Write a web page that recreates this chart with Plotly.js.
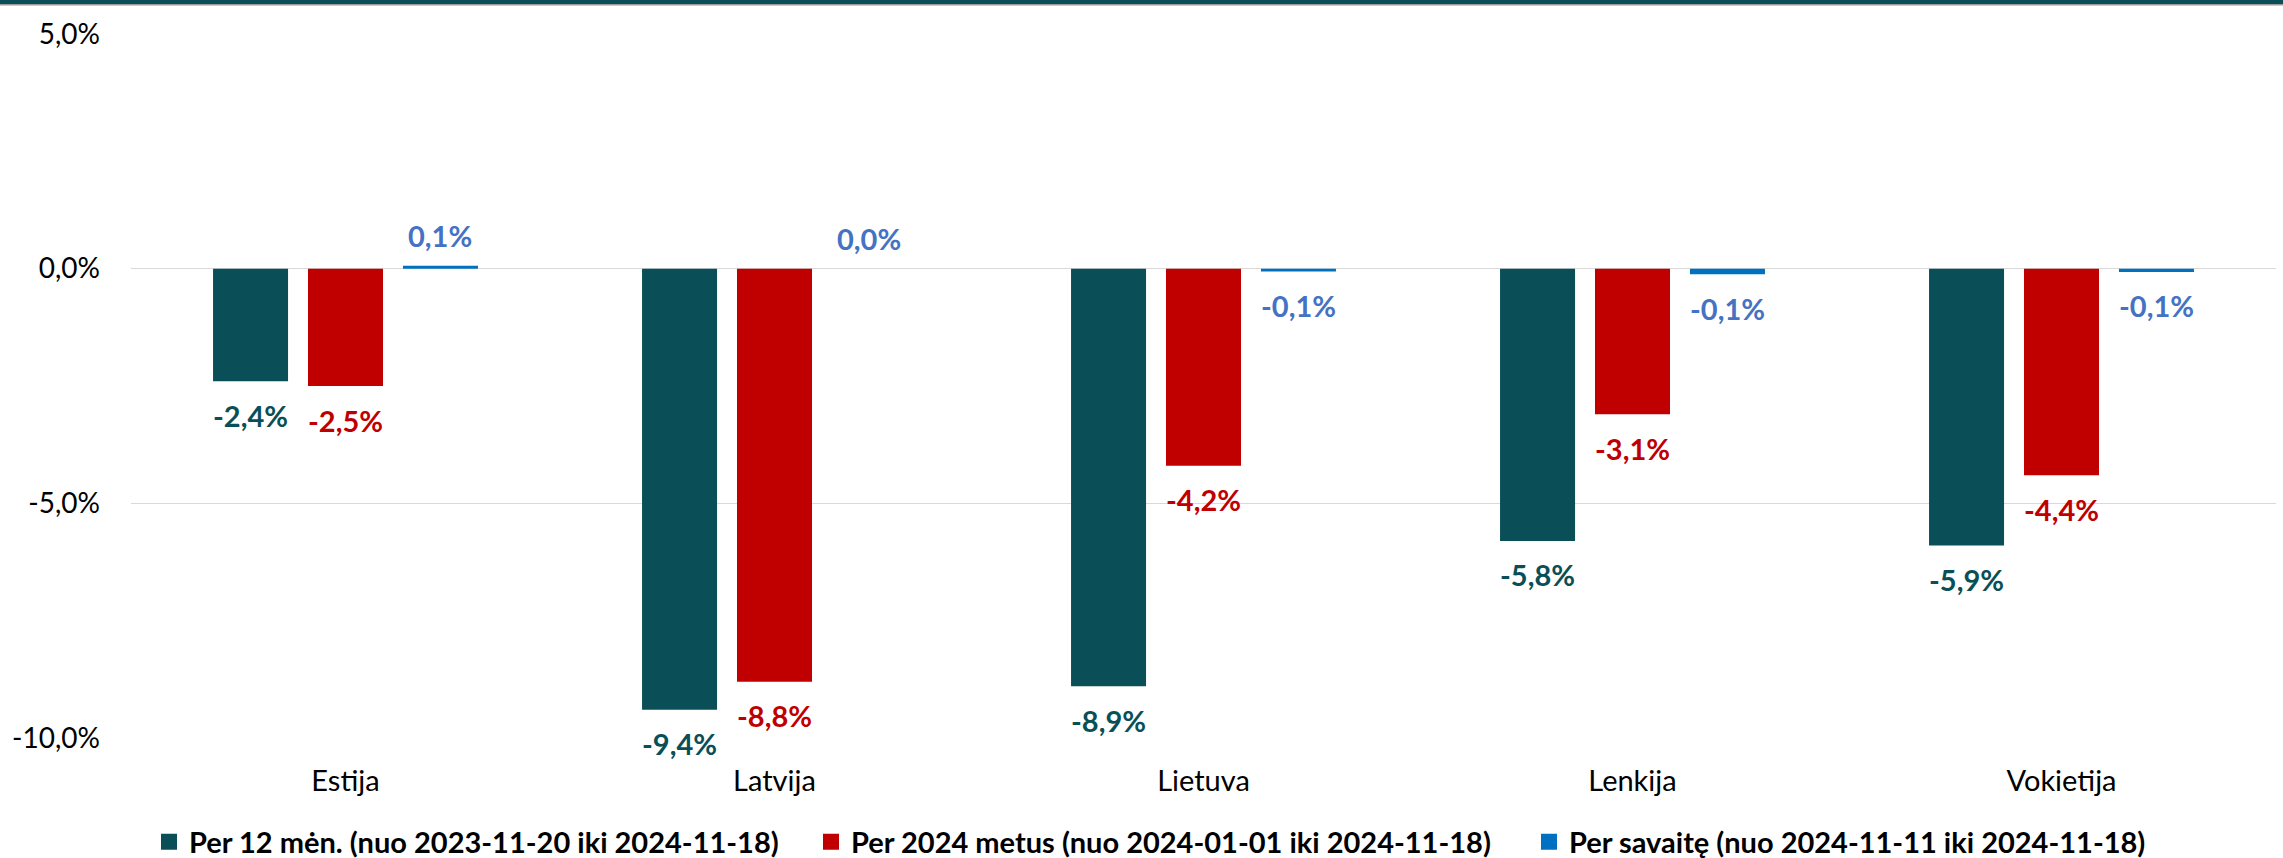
<!DOCTYPE html>
<html><head><meta charset="utf-8">
<script src="https://cdn.plot.ly/plotly-3.0.1.min.js"></script>
<style>html,body{margin:0;padding:0;background:#fff}#chart{width:2283px;height:858px}</style>
</head><body><div id="chart"></div>
<script>
const categories = ["Estija", "Latvija", "Lietuva", "Lenkija", "Vokietija"];
const seriesNames = [
  "Per 12 mėn. (nuo 2023-11-20 iki 2024-11-18)",
  "Per 2024 metus (nuo 2024-01-01 iki 2024-11-18)",
  "Per savaitę (nuo 2024-11-11 iki 2024-11-18)"
];
const per12m = [-2.4, -9.4, -8.9, -5.8, -5.9];
const perYear = [-2.5, -8.8, -4.2, -3.1, -4.4];
const perWeek = [0.06, 0.0, -0.06, -0.12, -0.07];
const yTickVals = [5, 0, -5, -10];
const yTickText = ["5,0%", "0,0%", "-5,0%", "-10,0%"];

const barColors = ["#0A4F57", "#C00000", "#0070C0"];
const labelColors = ["#0A4F57", "#C00000", "#4472C4"];
const series = [per12m, perYear, perWeek];

const FONT = "Lato, 'Open Sans', sans-serif";
const bargap = 0.336, bargroupgap = 0.21;
const slot = (1 - bargap) / 3;
const fmt = v => v.toFixed(1).replace('.', ',') + '%';

const W = 2283, H = 858, ml = 131, mr = 7, mt = 34, mb = 120;
const pw = W - ml - mr, ph = H - mt - mb;
const px2paperX = p => (p - ml) / pw;
const px2paperY = p => (H - mb - p) / ph;

const traces = [];
series.forEach((vals, s) => {
  traces.push({
    type: 'bar', x: categories, y: vals, name: seriesNames[s],
    marker: {color: barColors[s]}, showlegend: false, hoverinfo: 'skip'
  });
});
const legendX = [177, 831, 1547];
series.forEach((vals, s) => {
  traces.push({
    type: 'scatter', mode: 'markers', x: [null], y: [null], name: seriesNames[s],
    marker: {symbol: 'square', size: 16, color: barColors[s]},
    legend: s === 0 ? 'legend' : 'legend' + (s + 1), showlegend: true, hoverinfo: 'skip'
  });
});

const annotations = [];
series.forEach((vals, s) => {
  vals.forEach((v, i) => {
    annotations.push({
      x: i + (s - 1) * slot, y: v, xref: 'x', yref: 'y',
      text: fmt(v), showarrow: false,
      yshift: v >= 0 ? 30 : -34,
      font: {family: FONT, size: 29, color: labelColors[s], weight: 700}
    });
  });
});

const legendBase = {
  orientation: 'h', yanchor: 'middle', xanchor: 'left', y: px2paperY(842),
  font: {family: FONT, size: 29, color: '#000', weight: 700},
  bgcolor: 'rgba(0,0,0,0)', itemsizing: 'trace', valign: 'middle'
};

const layout = {
  width: W, height: H,
  margin: {l: ml, r: mr, t: mt, b: mb, pad: 0, autoexpand: false},
  paper_bgcolor: '#fff', plot_bgcolor: '#fff',
  font: {family: FONT, size: 28, color: '#000'},
  barmode: 'group', bargap: bargap, bargroupgap: bargroupgap,
  xaxis: {
    type: 'category', range: [-0.5, 4.5], showgrid: false, zeroline: false,
    showline: false, ticks: '', ticklabelstandoff: 23, automargin: false,
    tickfont: {family: FONT, size: 29, color: '#000'}, fixedrange: true
  },
  yaxis: {
    range: [-10, 5], tickvals: yTickVals, ticktext: yTickText,
    showgrid: true, gridcolor: '#D9D9D9', gridwidth: 1.5,
    zeroline: true, zerolinecolor: '#D9D9D9', zerolinewidth: 1.5,
    showline: false, ticks: '', ticklabelstandoff: 30, automargin: false,
    tickfont: {family: FONT, size: 28, color: '#000'}, fixedrange: true
  },
  legend: Object.assign({}, legendBase, {x: px2paperX(legendX[0] - 28)}),
  legend2: Object.assign({}, legendBase, {x: px2paperX(legendX[1] - 20)}),
  legend3: Object.assign({}, legendBase, {x: px2paperX(legendX[2] - 18)}),
  annotations: annotations,
  shapes: [
    {type: 'rect', xref: 'paper', yref: 'paper', x0: px2paperX(0), x1: px2paperX(W),
     y0: px2paperY(4), y1: px2paperY(0), fillcolor: '#0A4F57', line: {width: 0}, layer: 'above'},
    {type: 'rect', xref: 'paper', yref: 'paper', x0: px2paperX(0), x1: px2paperX(W),
     y0: px2paperY(5.5), y1: px2paperY(4), fillcolor: '#9A9A9A', line: {width: 0}, layer: 'above'}
  ],
  showlegend: true
};

Plotly.newPlot('chart', traces, layout, {displayModeBar: false, staticPlot: true});
</script></body></html>
